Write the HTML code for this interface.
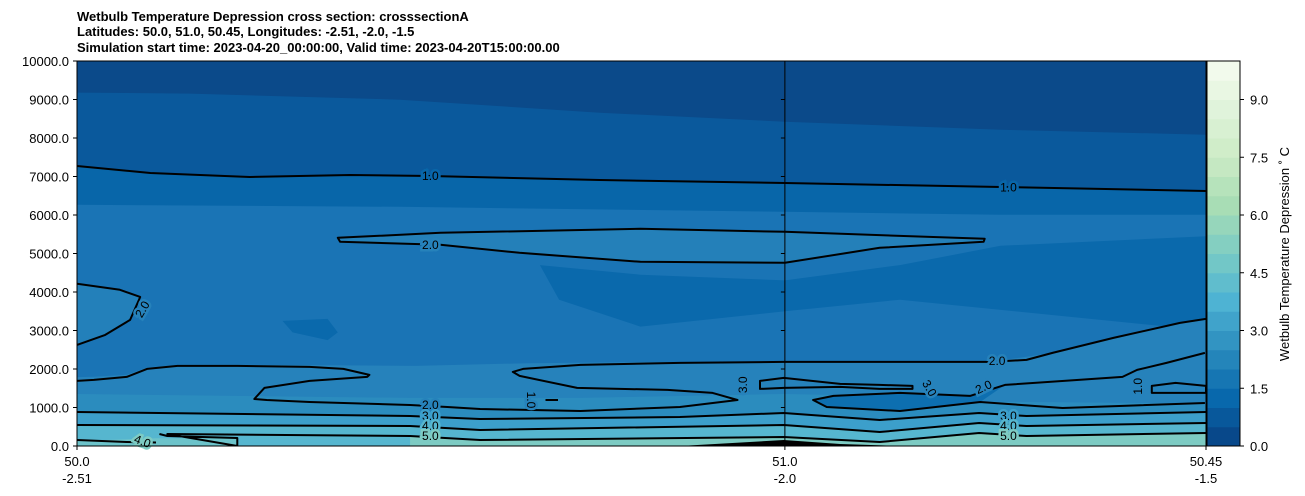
<!DOCTYPE html>
<html><head><meta charset="utf-8"><style>
body{margin:0;background:#fff}
svg{display:block;font-family:"Liberation Sans","DejaVu Sans",sans-serif}
</style></head><body>
<svg id="chart" width="1305" height="496" viewBox="0 0 1305 496">
<g font-weight="bold" font-size="13" fill="#000">
<text x="77" y="21">Wetbulb Temperature Depression cross section: crosssectionA</text>
<text x="77" y="36">Latitudes: 50.0, 51.0, 50.45, Longitudes: -2.51, -2.0, -1.5</text>
<text x="77" y="52">Simulation start time: 2023-04-20_00:00:00, Valid time: 2023-04-20T15:00:00.00</text>
</g>
<defs><clipPath id="clip"><rect x="77" y="61" width="1129" height="385"/></clipPath></defs>
<g id="fills" clip-path="url(#clip)"></g>
<g id="lines" clip-path="url(#clip)"></g>
<g id="labels"></g>
<g id="axes"></g>
<g id="cbar"></g>
</svg>
<script>
// ---- axis data ----
const yTicks = [0,1000,2000,3000,4000,5000,6000,7000,8000,9000,10000];
const xTickPos = [0, 62.7, 100];
const xTickLat = ["50.0","51.0","50.45"];
const xTickLon = ["-2.51","-2.0","-1.5"];
const cbarTicks = [0,1.5,3.0,4.5,6.0,7.5,9.0];
const cbarLevels = [0,0.5,1,1.5,2,2.5,3,3.5,4,4.5,5,5.5,6,6.5,7,7.5,8,8.5,9,9.5,10];

// ---- filled regions (distance 0-100, altitude m) ----
const fillTopD = [0,10,28.6,46.3,62.7,81.8,100];
const fillTopA = [9178,9152,8996,8658,8424,8216,8086];
const fillMidD = [0,6.5,15.3,24.2,31.3,46.3,62.7,81.8,100];
const fillMidA = [7273,7091,6987,7039,7013,6909,6831,6727,6623];
const fillLowD = [0,28.6,62.7,81.8,100];
const fillLowA = [6266,6214,6084,6006,6006];
const patchD = [41,49.9,62.7,72.9,81.8,100,100,72.9,62.7,49.9,42.7];
const patchA = [4700,4450,4300,4700,5200,5450,3000,3800,3500,3100,3800];
const smallPatchD = [18.2,22.2,23.1,22.2,19.1];
const smallPatchA = [3250,3300,2950,2750,2950];
const lightLowD = [0,1.5,4.4,6.2,8.9,14.2,20.6,30,40,50,62.6,71.1,80.9,86.4,91.8,97.7,100];
const lightLowA = [1790,1800,1850,2040,2110,2110,2100,2080,2150,2180,2184,2184,2184,2418,2808,3198,3302];
const band3D = [0,29.5,44.6,62.6,71.1,80.9,100];
const band3A = [1350,1250,1250,1350,1300,1150,1100];

// ---- contour lines ----
const c1D = [0,6.5,15.3,24.2,31.3,46.3,62.7,81.8,100];
const c1A = [7273,7091,6987,7039,7013,6909,6831,6727,6623];
const c2uD = [23.1,32.2,49.9,62.7,80.4,80.3,71.1,62.7,49.9,39.2,32.2,23.3,23.1];
const c2uA = [5408,5538,5642,5564,5382,5304,5148,4758,4784,5018,5226,5304,5408];
const c2lD = [0,3.8,5.6,5.6,4.7,2.5,0];
const c2lA = [4212,4056,3874,3870,3276,2886,2626];
const c2bD = [0,1.5,4.4,6.2,8.9,14.2,20.6,23.6,25.9,25.7,20.6,16.6,15.7,16.8,20.6,29.5,32.8,35.7,44.6,53.4,58.5,56.3,52.3,44.3,39.2,38.6,39.5,44.6,53.4,62.6,71.1,80.9,84.1,86.4,91.8,97.7,100];
const c2bA = [1690,1716,1794,2002,2080,2080,2054,2002,1846,1794,1690,1508,1222,1196,1144,1066,1014,962,910,1014,1196,1378,1456,1508,1820,1924,2002,2106,2158,2184,2184,2184,2236,2418,2808,3198,3302];
const c10sD = [41.5,42.6];
const c10sA = [1196,1196];
const c3loopD = [60.5,62.6,67.6,71.1,74.0,74.0,71.1,67.6,62.6,60.5];
const c3loopA = [1690,1768,1612,1586,1560,1482,1482,1534,1508,1482];
const c2rD = [99.9,96.5,93.9,92.6,82.2,79.1,72.9,67.0,65.2,66.4,72.9,80.0,87.3,99.9];
const c2rA = [2418,2158,1976,1794,1586,1300,1378,1300,1196,1014,910,1144,988,1118];
const c1rD = [95.2,97.3,100,100,95.2];
const c1rA = [1560,1638,1560,1378,1378];
const c3D = [0,29.5,35.7,53.4,62.6,71.1,79.9,84.1,100];
const c3A = [884,780,702,754,858,676,858,780,884];
const c4D = [0,29.5,35.7,62.6,71.1,79.9,84.1,100];
const c4A = [546,520,416,546,364,598,520,598];
const c5D = [7.3,8.0,14.2,14.2,8.0,29.5,35.7,62.6,71.1,79.9,84.1,100];
const c5A = [312,260,208,0,312,260,156,234,104,338,260,338];
const c4bD = [0,4.4,7.0];
const c4bA = [156,104,90];
const terrainD = [53.4,62.6,67.6,72.9,100];
const terrainA = [0,156,52,0,0];

const labelsText = ["1.0","1.0","2.0","2.0","2.0","2.0","2.0","3.0","4.0","5.0","3.0","4.0","5.0","1.0","1.0","3.0","3.0","4.0"];
const labelsD = [31.3,82.5,31.3,5.8,31.3,81.5,80.3,31.3,31.3,31.3,82.5,82.5,82.5,40.2,94.0,59.0,75.5,5.8];
const labelsA = [7013,6720,5226,3550,1066,2210,1530,780,520,260,780,520,260,1196,1550,1590,1500,120];
const labelsRot = [0,0,0,-60,0,0,-25,0,0,0,0,0,0,90,-90,-90,60,20];

// ---- scales ----
const X0=77,X1=1206,Y0=446,Y1=61;
const xs = d => X0 + d/100*(X1-X0);
const ys = a => Y0 - a/10000*(Y0-Y1);
const NS='http://www.w3.org/2000/svg';
function mk(tag, parent){const e=document.createElementNS(NS,tag);parent.appendChild(e);return e;}
function pts(D,A){return D.map((d,i)=>xs(d).toFixed(1)+','+ys(A[i]).toFixed(1)).join(' ');}

const G = ['#f7fcf0','#e0f3db','#ccebc5','#a8ddb5','#7bccc4','#4eb3d3','#2b8cbe','#0868ac','#084081'];
function cmap(t){
  t = 1-t; const p=t*8, i=Math.min(7,Math.floor(p)), f=p-i;
  const a=G[i],b=G[i+1];
  const c=k=>Math.round(parseInt(a.substr(k,2),16)*(1-f)+parseInt(b.substr(k,2),16)*f);
  return `rgb(${c(1)},${c(3)},${c(5)})`;
}

const fills=document.getElementById('fills');
let r=mk('rect',fills);


r.setAttribute('x',X0);r.setAttribute('y',Y1);r.setAttribute('width',X1-X0);r.setAttribute('height',Y0-Y1);r.setAttribute('fill','#1a74b5');

function fillAbove(D,A,color,name){
  const p=mk('polygon',fills);
  
  
  p.setAttribute('points',pts(D,A)+' '+xs(100)+','+ys(10000)+' '+xs(0)+','+ys(10000));
  p.setAttribute('fill',color);
}
function fillBelow(D,A,color,name){
  const p=mk('polygon',fills);
  
  
  p.setAttribute('points',xs(D[0])+','+ys(0)+' '+pts(D,A)+' '+xs(D[D.length-1])+','+ys(0));
  p.setAttribute('fill',color);
}
function fillPoly(D,A,color,name){
  const p=mk('polygon',fills);
  
  
  p.setAttribute('points',pts(D,A));
  p.setAttribute('fill',color);
}
fillAbove(fillLowD,fillLowA,'#0866a9','fill-band-6000');
fillAbove(fillMidD,fillMidA,'#0a599c','fill-band-7000');
fillAbove(fillTopD,fillTopA,'#0b4a8a','fill-band-top');
fillPoly(patchD,patchA,'#0a69ac','fill-dark-patch');
fillPoly(smallPatchD,smallPatchA,'#0a69ac','fill-small-patch');
fillPoly(c2uD,c2uA,'#2480b9','fill-upper-2');
fillPoly([0].concat(c2lD),[4300].concat(c2lA),'#2380ba','fill-left-2');
fillBelow(lightLowD,lightLowA,'#2682bb','fill-low-2');
fillBelow(band3D,band3A,'#2b8cbe','fill-band-2-5');
fillPoly(c2rD.slice(4,12),c2rA.slice(4,12),'#0d6fb0','fill-right-loop');
fillBelow(c3D,c3A,'#3c9fcb','fill-band-3');
fillBelow(c4D,c4A,'#56b6cf','fill-band-4');
fillBelow(c5D.slice(5),c5A.slice(5),'#7dcbc3','fill-band-5');
fillBelow([0,7,14.2],[130,200,200],'#6cc3ca','fill-left-4');

const lines=document.getElementById('lines');
function line(D,A,name,closed){
  const p=mk(closed?'polygon':'polyline',lines);
  
  
  p.setAttribute('points',pts(D,A));
  p.setAttribute('fill','none');p.setAttribute('stroke','#000');p.setAttribute('stroke-width','2');
  p.setAttribute('stroke-linejoin','round');
}
line(c1D,c1A,'contour-1-upper');
line(c2uD,c2uA,'contour-2-upper-loop',true);
line(c2lD,c2lA,'contour-2-left');
line(c2bD,c2bA,'contour-2-lower');
line(c10sD,c10sA,'contour-1-small');
line(c3loopD,c3loopA,'contour-3-loop',true);
line(c2rD,c2rA,'contour-2-right');
line(c1rD,c1rA,'contour-1-right',true);
line(c3D,c3A,'contour-3');
line(c4D,c4A,'contour-4');
line(c5D,c5A,'contour-5');
line(c4bD,c4bA,'contour-4-left');
const tp=mk('polygon',lines);


tp.setAttribute('points',pts(terrainD,terrainA));tp.setAttribute('fill','#000');

const labs=document.getElementById('labels');
function halo(a){ if(a<400) return '#7dcbc3'; if(a<700) return '#56b6cf'; if(a<1000) return '#3c9fcb'; if(a>6000) return '#0866a9'; return '#2682bb'; }
labelsText.forEach((t,i)=>{
  const x=xs(labelsD[i]),y=ys(labelsA[i]);
  const e=mk('text',labs);
  
  
  e.setAttribute('x',x);e.setAttribute('y',y+4);
  e.setAttribute('text-anchor','middle');e.setAttribute('font-size','12');
  e.setAttribute('transform',`rotate(${labelsRot[i]} ${x} ${y})`);
  e.setAttribute('stroke',halo(labelsA[i]));e.setAttribute('stroke-width','5');e.setAttribute('paint-order','stroke');
  e.setAttribute('fill','#000');
  e.textContent=t;
});

const ax=document.getElementById('axes');
const frame=mk('rect',ax);


frame.setAttribute('x',X0);frame.setAttribute('y',Y1);frame.setAttribute('width',X1-X0);frame.setAttribute('height',Y0-Y1);
frame.setAttribute('fill','none');frame.setAttribute('stroke','#000');
const vl=mk('line',ax);


vl.setAttribute('x1',xs(xTickPos[1]));vl.setAttribute('x2',xs(xTickPos[1]));vl.setAttribute('y1',Y1);vl.setAttribute('y2',Y0);vl.setAttribute('stroke','#000');
yTicks.forEach(v=>{
  const y=ys(v);
  const t=mk('line',ax);
  
  
  t.setAttribute('x1',X0-4);t.setAttribute('x2',X0);t.setAttribute('y1',y);t.setAttribute('y2',y);t.setAttribute('stroke','#000');
  const t2=mk('line',ax);
  
  
  t2.setAttribute('x1',xs(xTickPos[1])-4);t2.setAttribute('x2',xs(xTickPos[1]));t2.setAttribute('y1',y);t2.setAttribute('y2',y);t2.setAttribute('stroke','#000');
  const l=mk('text',ax);
  
  
  l.setAttribute('x',X0-8);l.setAttribute('y',y+5);l.setAttribute('text-anchor','end');l.setAttribute('font-size','13');
  l.textContent=v.toFixed(1);
});
xTickPos.forEach((d,i)=>{
  const x=xs(d);
  const t=mk('line',ax);
  
  
  t.setAttribute('x1',x);t.setAttribute('x2',x);t.setAttribute('y1',Y0);t.setAttribute('y2',Y0+4);t.setAttribute('stroke','#000');
  const l=mk('text',ax);
  
  
  l.setAttribute('x',x);l.setAttribute('y',466);l.setAttribute('text-anchor','middle');l.setAttribute('font-size','13');
  l.textContent=xTickLat[i];
  const l2=mk('text',ax);
  
  
  l2.setAttribute('x',x);l2.setAttribute('y',483);l2.setAttribute('text-anchor','middle');l2.setAttribute('font-size','13');
  l2.textContent=xTickLon[i];
});

const cb=document.getElementById('cbar');
const CX=1207,CW=33;
const cy=v=>Y0-v/10*(Y0-Y1);
for(let i=0;i<cbarLevels.length-1;i++){
  const lo=cbarLevels[i],hi=cbarLevels[i+1];
  const b=mk('rect',cb);
  
  
  b.setAttribute('x',CX);b.setAttribute('y',cy(hi));b.setAttribute('width',CW);b.setAttribute('height',cy(lo)-cy(hi)+0.5);
  b.setAttribute('fill',cmap((i+0.5)/(cbarLevels.length-1)));
}
const cf=mk('rect',cb);


cf.setAttribute('x',CX);cf.setAttribute('y',Y1);cf.setAttribute('width',CW);cf.setAttribute('height',Y0-Y1);cf.setAttribute('fill','none');cf.setAttribute('stroke','#000');
cbarTicks.forEach(v=>{
  const y=cy(v);
  const t=mk('line',cb);
  
  
  t.setAttribute('x1',CX+CW);t.setAttribute('x2',CX+CW+4);t.setAttribute('y1',y);t.setAttribute('y2',y);t.setAttribute('stroke','#000');
  const l=mk('text',cb);
  
  
  l.setAttribute('x',CX+CW+10);l.setAttribute('y',y+5);l.setAttribute('font-size','13');
  l.textContent=v.toFixed(1);
});
const ct=mk('text',cb);


ct.setAttribute('x',1289);ct.setAttribute('y',254);ct.setAttribute('text-anchor','middle');ct.setAttribute('font-size','13');
ct.setAttribute('transform','rotate(-90 1289 254)');
ct.textContent='Wetbulb Temperature Depression \u02da C';
</script>
</body></html>
